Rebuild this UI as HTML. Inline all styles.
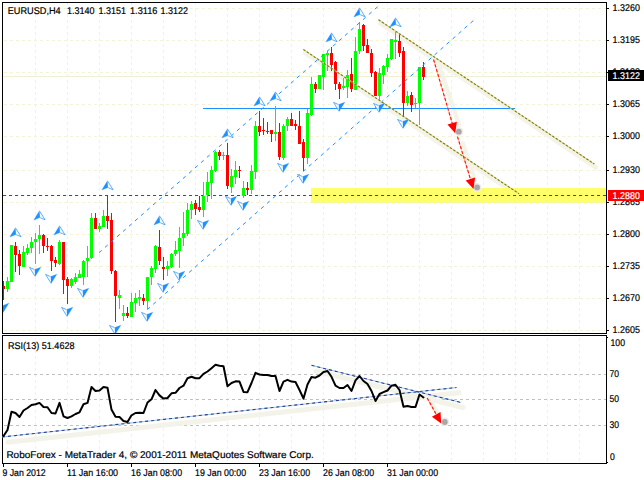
<!DOCTYPE html>
<html lang="en"><head><meta charset="utf-8"><title>EURUSD H4</title>
<style>html,body{margin:0;padding:0;background:#fff}svg{display:block}text{font-family:"Liberation Sans",sans-serif;font-size:9.8px;text-rendering:geometricPrecision;fill:#000;stroke:#000;stroke-width:.2px}</style></head><body>
<svg width="644" height="480" viewBox="0 0 644 480">
<rect width="644" height="480" fill="#fff"/>
<g stroke="#F4F2D8" stroke-width="1" stroke-dasharray="3 3" shape-rendering="crispEdges">
<line x1="35.5" y1="2" x2="35.5" y2="333"/>
<line x1="35.5" y1="338" x2="35.5" y2="463"/>
<line x1="67.5" y1="2" x2="67.5" y2="333"/>
<line x1="67.5" y1="338" x2="67.5" y2="463"/>
<line x1="99.5" y1="2" x2="99.5" y2="333"/>
<line x1="99.5" y1="338" x2="99.5" y2="463"/>
<line x1="131.5" y1="2" x2="131.5" y2="333"/>
<line x1="131.5" y1="338" x2="131.5" y2="463"/>
<line x1="163.5" y1="2" x2="163.5" y2="333"/>
<line x1="163.5" y1="338" x2="163.5" y2="463"/>
<line x1="195.5" y1="2" x2="195.5" y2="333"/>
<line x1="195.5" y1="338" x2="195.5" y2="463"/>
<line x1="227.5" y1="2" x2="227.5" y2="333"/>
<line x1="227.5" y1="338" x2="227.5" y2="463"/>
<line x1="259.5" y1="2" x2="259.5" y2="333"/>
<line x1="259.5" y1="338" x2="259.5" y2="463"/>
<line x1="291.5" y1="2" x2="291.5" y2="333"/>
<line x1="291.5" y1="338" x2="291.5" y2="463"/>
<line x1="323.5" y1="2" x2="323.5" y2="333"/>
<line x1="323.5" y1="338" x2="323.5" y2="463"/>
<line x1="355.5" y1="2" x2="355.5" y2="333"/>
<line x1="355.5" y1="338" x2="355.5" y2="463"/>
<line x1="387.5" y1="2" x2="387.5" y2="333"/>
<line x1="387.5" y1="338" x2="387.5" y2="463"/>
<line x1="419.5" y1="2" x2="419.5" y2="333"/>
<line x1="419.5" y1="338" x2="419.5" y2="463"/>
<line x1="451.5" y1="2" x2="451.5" y2="333"/>
<line x1="451.5" y1="338" x2="451.5" y2="463"/>
<line x1="483.5" y1="2" x2="483.5" y2="333"/>
<line x1="483.5" y1="338" x2="483.5" y2="463"/>
<line x1="515.5" y1="2" x2="515.5" y2="333"/>
<line x1="515.5" y1="338" x2="515.5" y2="463"/>
<line x1="547.5" y1="2" x2="547.5" y2="333"/>
<line x1="547.5" y1="338" x2="547.5" y2="463"/>
<line x1="579.5" y1="2" x2="579.5" y2="333"/>
<line x1="579.5" y1="338" x2="579.5" y2="463"/>
<line x1="4" y1="8.5" x2="606" y2="8.5"/>
<line x1="4" y1="40.5" x2="606" y2="40.5"/>
<line x1="4" y1="72.5" x2="606" y2="72.5"/>
<line x1="4" y1="104.5" x2="606" y2="104.5"/>
<line x1="4" y1="136.5" x2="606" y2="136.5"/>
<line x1="4" y1="170.5" x2="606" y2="170.5"/>
<line x1="4" y1="202.5" x2="606" y2="202.5"/>
<line x1="4" y1="234.5" x2="606" y2="234.5"/>
<line x1="4" y1="266.5" x2="606" y2="266.5"/>
<line x1="4" y1="298.5" x2="606" y2="298.5"/>
<line x1="4" y1="330.5" x2="606" y2="330.5"/>
</g>
<rect x="3" y="76" width="603" height="1" fill="#F2F0D2"/>
<g stroke="#F4F3E8" stroke-width="4.5" stroke-linecap="round" fill="none">
<line x1="380" y1="23.2" x2="596" y2="167.6"/>
<line x1="305" y1="53" x2="520.5" y2="197.2"/>
<line x1="438.2" y1="63" x2="459.2" y2="125" stroke-width="4.4"/>
<line x1="463" y1="143" x2="474.5" y2="178.5" stroke-width="4"/>
</g>
<rect x="311" y="188" width="295" height="15" fill="#FFFF6A"/>
<g stroke="#F3F18A" stroke-width="1" stroke-dasharray="3 3" shape-rendering="crispEdges">
<line x1="323.5" y1="189" x2="323.5" y2="202"/>
<line x1="355.5" y1="189" x2="355.5" y2="202"/>
<line x1="387.5" y1="189" x2="387.5" y2="202"/>
<line x1="419.5" y1="189" x2="419.5" y2="202"/>
<line x1="451.5" y1="189" x2="451.5" y2="202"/>
<line x1="483.5" y1="189" x2="483.5" y2="202"/>
<line x1="515.5" y1="189" x2="515.5" y2="202"/>
<line x1="547.5" y1="189" x2="547.5" y2="202"/>
<line x1="579.5" y1="189" x2="579.5" y2="202"/>
</g>
<line x1="310" y1="202.5" x2="606" y2="202.5" stroke="#F6F4B4" stroke-width="1" stroke-dasharray="3 3" shape-rendering="crispEdges"/>
<line x1="3" y1="195.5" x2="606" y2="195.5" stroke="#FF0000" stroke-width="1" stroke-dasharray="3 3" shape-rendering="crispEdges"/>
<rect x="203" y="108" width="312" height="1" fill="#1E90FF"/>
<g shape-rendering="crispEdges">
<rect x="3" y="281" width="1" height="19" fill="#FF0000"/><rect x="2" y="286" width="3" height="3" fill="#FF0000"/>
<rect x="7" y="277" width="1" height="15" fill="#00FF00"/><rect x="6" y="281" width="3" height="8" fill="#00FF00"/>
<rect x="11" y="245" width="1" height="37" fill="#00FF00"/><rect x="10" y="245" width="3" height="37" fill="#00FF00"/>
<rect x="15" y="242" width="1" height="30" fill="#FF0000"/><rect x="14" y="246" width="3" height="9" fill="#FF0000"/>
<rect x="19" y="250" width="1" height="25" fill="#FF0000"/><rect x="18" y="254" width="3" height="12" fill="#FF0000"/>
<rect x="23" y="246" width="1" height="21" fill="#00FF00"/><rect x="22" y="252" width="3" height="15" fill="#00FF00"/>
<rect x="27" y="244" width="1" height="11" fill="#00FF00"/><rect x="26" y="248" width="3" height="5" fill="#00FF00"/>
<rect x="31" y="237" width="1" height="16" fill="#00FF00"/><rect x="30" y="242" width="3" height="6" fill="#00FF00"/>
<rect x="35" y="233" width="1" height="31" fill="#00FF00"/><rect x="34" y="239" width="3" height="3" fill="#00FF00"/>
<rect x="39" y="225" width="1" height="29" fill="#00FF00"/><rect x="38" y="235" width="3" height="4" fill="#00FF00"/>
<rect x="43" y="234" width="1" height="19" fill="#FF0000"/><rect x="42" y="235" width="3" height="11" fill="#FF0000"/>
<rect x="47" y="238" width="1" height="13" fill="#FF0000"/><rect x="46" y="246" width="3" height="1" fill="#FF0000"/>
<rect x="51" y="245" width="1" height="26" fill="#FF0000"/><rect x="50" y="246" width="3" height="15" fill="#FF0000"/>
<rect x="55" y="257" width="1" height="10" fill="#FF0000"/><rect x="54" y="260" width="3" height="3" fill="#FF0000"/>
<rect x="59" y="240" width="1" height="25" fill="#00FF00"/><rect x="58" y="242" width="3" height="22" fill="#00FF00"/>
<rect x="63" y="242" width="1" height="52" fill="#FF0000"/><rect x="62" y="242" width="3" height="38" fill="#FF0000"/>
<rect x="67" y="277" width="1" height="27" fill="#FF0000"/><rect x="66" y="279" width="3" height="7" fill="#FF0000"/>
<rect x="71" y="278" width="1" height="10" fill="#00FF00"/><rect x="70" y="279" width="3" height="7" fill="#00FF00"/>
<rect x="75" y="273" width="1" height="11" fill="#00FF00"/><rect x="74" y="277" width="3" height="5" fill="#00FF00"/>
<rect x="79" y="270" width="1" height="8" fill="#00FF00"/><rect x="78" y="274" width="3" height="4" fill="#00FF00"/>
<rect x="83" y="260" width="1" height="25" fill="#00FF00"/><rect x="82" y="261" width="3" height="16" fill="#00FF00"/>
<rect x="87" y="246" width="1" height="31" fill="#00FF00"/><rect x="86" y="258" width="3" height="3" fill="#00FF00"/>
<rect x="91" y="213" width="1" height="46" fill="#00FF00"/><rect x="90" y="218" width="3" height="40" fill="#00FF00"/>
<rect x="95" y="213" width="1" height="16" fill="#FF0000"/><rect x="94" y="218" width="3" height="11" fill="#FF0000"/>
<rect x="99" y="223" width="1" height="9" fill="#00FF00"/><rect x="98" y="226" width="3" height="3" fill="#00FF00"/>
<rect x="103" y="210" width="1" height="17" fill="#00FF00"/><rect x="102" y="216" width="3" height="11" fill="#00FF00"/>
<rect x="107" y="195" width="1" height="34" fill="#FF0000"/><rect x="106" y="216" width="3" height="5" fill="#FF0000"/>
<rect x="111" y="213" width="1" height="61" fill="#FF0000"/><rect x="110" y="220" width="3" height="51" fill="#FF0000"/>
<rect x="115" y="270" width="1" height="52" fill="#FF0000"/><rect x="114" y="271" width="3" height="25" fill="#FF0000"/>
<rect x="119" y="290" width="1" height="19" fill="#00FF00"/><rect x="118" y="295" width="3" height="3" fill="#00FF00"/>
<rect x="123" y="305" width="1" height="16" fill="#00FF00"/><rect x="122" y="313" width="3" height="3" fill="#00FF00"/>
<rect x="127" y="307" width="1" height="11" fill="#FF0000"/><rect x="126" y="313" width="3" height="3" fill="#FF0000"/>
<rect x="131" y="293" width="1" height="24" fill="#00FF00"/><rect x="130" y="302" width="3" height="15" fill="#00FF00"/>
<rect x="135" y="293" width="1" height="19" fill="#00FF00"/><rect x="134" y="298" width="3" height="5" fill="#00FF00"/>
<rect x="139" y="290" width="1" height="16" fill="#00FF00"/><rect x="138" y="297" width="3" height="2" fill="#00FF00"/>
<rect x="143" y="294" width="1" height="11" fill="#FF0000"/><rect x="142" y="298" width="3" height="3" fill="#FF0000"/>
<rect x="147" y="277" width="1" height="32" fill="#00FF00"/><rect x="146" y="277" width="3" height="24" fill="#00FF00"/>
<rect x="151" y="266" width="1" height="19" fill="#00FF00"/><rect x="150" y="268" width="3" height="9" fill="#00FF00"/>
<rect x="155" y="245" width="1" height="28" fill="#00FF00"/><rect x="154" y="246" width="3" height="23" fill="#00FF00"/>
<rect x="159" y="230" width="1" height="35" fill="#FF0000"/><rect x="158" y="247" width="3" height="14" fill="#FF0000"/>
<rect x="163" y="257" width="1" height="23" fill="#FF0000"/><rect x="162" y="267" width="3" height="2" fill="#FF0000"/>
<rect x="167" y="261" width="1" height="15" fill="#00FF00"/><rect x="166" y="266" width="3" height="3" fill="#00FF00"/>
<rect x="171" y="253" width="1" height="15" fill="#00FF00"/><rect x="170" y="254" width="3" height="13" fill="#00FF00"/>
<rect x="175" y="241" width="1" height="15" fill="#00FF00"/><rect x="174" y="250" width="3" height="4" fill="#00FF00"/>
<rect x="179" y="227" width="1" height="41" fill="#00FF00"/><rect x="178" y="238" width="3" height="13" fill="#00FF00"/>
<rect x="183" y="212" width="1" height="34" fill="#00FF00"/><rect x="182" y="233" width="3" height="5" fill="#00FF00"/>
<rect x="187" y="203" width="1" height="33" fill="#00FF00"/><rect x="186" y="210" width="3" height="24" fill="#00FF00"/>
<rect x="191" y="201" width="1" height="18" fill="#00FF00"/><rect x="190" y="204" width="3" height="6" fill="#00FF00"/>
<rect x="195" y="200" width="1" height="15" fill="#FF0000"/><rect x="194" y="203" width="3" height="6" fill="#FF0000"/>
<rect x="199" y="196" width="1" height="16" fill="#FF0000"/><rect x="198" y="207" width="3" height="3" fill="#FF0000"/>
<rect x="203" y="182" width="1" height="35" fill="#00FF00"/><rect x="202" y="196" width="3" height="14" fill="#00FF00"/>
<rect x="207" y="172" width="1" height="30" fill="#00FF00"/><rect x="206" y="182" width="3" height="13" fill="#00FF00"/>
<rect x="211" y="166" width="1" height="33" fill="#00FF00"/><rect x="210" y="170" width="3" height="13" fill="#00FF00"/>
<rect x="215" y="151" width="1" height="21" fill="#00FF00"/><rect x="214" y="152" width="3" height="19" fill="#00FF00"/>
<rect x="219" y="150" width="1" height="10" fill="#FF0000"/><rect x="218" y="152" width="3" height="4" fill="#FF0000"/>
<rect x="223" y="152" width="1" height="8" fill="#00FF00"/><rect x="222" y="155" width="3" height="1" fill="#00FF00"/>
<rect x="227" y="143" width="1" height="46" fill="#FF0000"/><rect x="226" y="155" width="3" height="31" fill="#FF0000"/>
<rect x="231" y="169" width="1" height="24" fill="#00FF00"/><rect x="230" y="176" width="3" height="11" fill="#00FF00"/>
<rect x="235" y="161" width="1" height="23" fill="#00FF00"/><rect x="234" y="170" width="3" height="7" fill="#00FF00"/>
<rect x="239" y="166" width="1" height="12" fill="#FF0000"/><rect x="238" y="170" width="3" height="1" fill="#FF0000"/>
<rect x="243" y="181" width="1" height="17" fill="#00FF00"/><rect x="242" y="188" width="3" height="8" fill="#00FF00"/>
<rect x="247" y="182" width="1" height="13" fill="#FF0000"/><rect x="246" y="188" width="3" height="2" fill="#FF0000"/>
<rect x="251" y="165" width="1" height="29" fill="#00FF00"/><rect x="250" y="171" width="3" height="19" fill="#00FF00"/>
<rect x="255" y="121" width="1" height="58" fill="#00FF00"/><rect x="254" y="126" width="3" height="46" fill="#00FF00"/>
<rect x="259" y="111" width="1" height="25" fill="#FF0000"/><rect x="258" y="126" width="3" height="6" fill="#FF0000"/>
<rect x="263" y="118" width="1" height="17" fill="#FF0000"/><rect x="262" y="130" width="3" height="1" fill="#FF0000"/>
<rect x="267" y="122" width="1" height="12" fill="#FF0000"/><rect x="266" y="131" width="3" height="1" fill="#FF0000"/>
<rect x="271" y="130" width="1" height="12" fill="#FF0000"/><rect x="270" y="130" width="3" height="4" fill="#FF0000"/>
<rect x="275" y="106" width="1" height="35" fill="#00FF00"/><rect x="274" y="132" width="3" height="2" fill="#00FF00"/>
<rect x="279" y="123" width="1" height="37" fill="#FF0000"/><rect x="278" y="132" width="3" height="25" fill="#FF0000"/>
<rect x="283" y="124" width="1" height="36" fill="#00FF00"/><rect x="282" y="126" width="3" height="32" fill="#00FF00"/>
<rect x="287" y="117" width="1" height="14" fill="#00FF00"/><rect x="286" y="119" width="3" height="7" fill="#00FF00"/>
<rect x="291" y="113" width="1" height="13" fill="#FF0000"/><rect x="290" y="119" width="3" height="7" fill="#FF0000"/>
<rect x="295" y="120" width="1" height="10" fill="#FF0000"/><rect x="294" y="124" width="3" height="2" fill="#FF0000"/>
<rect x="299" y="111" width="1" height="33" fill="#FF0000"/><rect x="298" y="126" width="3" height="18" fill="#FF0000"/>
<rect x="303" y="139" width="1" height="32" fill="#FF0000"/><rect x="302" y="142" width="3" height="16" fill="#FF0000"/>
<rect x="307" y="109" width="1" height="55" fill="#00FF00"/><rect x="306" y="113" width="3" height="45" fill="#00FF00"/>
<rect x="311" y="77" width="1" height="39" fill="#00FF00"/><rect x="310" y="84" width="3" height="31" fill="#00FF00"/>
<rect x="315" y="82" width="1" height="11" fill="#FF0000"/><rect x="314" y="84" width="3" height="5" fill="#FF0000"/>
<rect x="319" y="75" width="1" height="14" fill="#00FF00"/><rect x="318" y="75" width="3" height="14" fill="#00FF00"/>
<rect x="323" y="54" width="1" height="36" fill="#00FF00"/><rect x="322" y="54" width="3" height="23" fill="#00FF00"/>
<rect x="327" y="51" width="1" height="20" fill="#00FF00"/><rect x="326" y="53" width="3" height="2" fill="#00FF00"/>
<rect x="331" y="47" width="1" height="24" fill="#FF0000"/><rect x="330" y="53" width="3" height="12" fill="#FF0000"/>
<rect x="335" y="61" width="1" height="29" fill="#FF0000"/><rect x="334" y="62" width="3" height="22" fill="#FF0000"/>
<rect x="339" y="82" width="1" height="17" fill="#FF0000"/><rect x="338" y="84" width="3" height="5" fill="#FF0000"/>
<rect x="343" y="78" width="1" height="12" fill="#00FF00"/><rect x="342" y="86" width="3" height="2" fill="#00FF00"/>
<rect x="347" y="70" width="1" height="28" fill="#00FF00"/><rect x="346" y="75" width="3" height="12" fill="#00FF00"/>
<rect x="351" y="58" width="1" height="34" fill="#FF0000"/><rect x="350" y="74" width="3" height="15" fill="#FF0000"/>
<rect x="355" y="37" width="1" height="53" fill="#00FF00"/><rect x="354" y="51" width="3" height="39" fill="#00FF00"/>
<rect x="359" y="22" width="1" height="32" fill="#00FF00"/><rect x="358" y="29" width="3" height="22" fill="#00FF00"/>
<rect x="363" y="24" width="1" height="27" fill="#FF0000"/><rect x="362" y="25" width="3" height="21" fill="#FF0000"/>
<rect x="367" y="39" width="1" height="14" fill="#FF0000"/><rect x="366" y="45" width="3" height="8" fill="#FF0000"/>
<rect x="371" y="49" width="1" height="28" fill="#FF0000"/><rect x="370" y="53" width="3" height="20" fill="#FF0000"/>
<rect x="375" y="71" width="1" height="25" fill="#FF0000"/><rect x="374" y="72" width="3" height="24" fill="#FF0000"/>
<rect x="379" y="68" width="1" height="32" fill="#00FF00"/><rect x="378" y="73" width="3" height="23" fill="#00FF00"/>
<rect x="383" y="65" width="1" height="19" fill="#00FF00"/><rect x="382" y="66" width="3" height="9" fill="#00FF00"/>
<rect x="387" y="54" width="1" height="18" fill="#00FF00"/><rect x="386" y="58" width="3" height="9" fill="#00FF00"/>
<rect x="391" y="39" width="1" height="21" fill="#00FF00"/><rect x="390" y="39" width="3" height="20" fill="#00FF00"/>
<rect x="395" y="32" width="1" height="27" fill="#00FF00"/><rect x="394" y="40" width="3" height="2" fill="#00FF00"/>
<rect x="399" y="34" width="1" height="23" fill="#FF0000"/><rect x="398" y="41" width="3" height="12" fill="#FF0000"/>
<rect x="403" y="47" width="1" height="69" fill="#FF0000"/><rect x="402" y="51" width="3" height="52" fill="#FF0000"/>
<rect x="407" y="91" width="1" height="15" fill="#00FF00"/><rect x="406" y="96" width="3" height="7" fill="#00FF00"/>
<rect x="411" y="92" width="1" height="20" fill="#FF0000"/><rect x="410" y="95" width="3" height="10" fill="#FF0000"/>
<rect x="415" y="98" width="1" height="10" fill="#00FF00"/><rect x="414" y="103" width="3" height="1" fill="#00FF00"/>
<rect x="419" y="67" width="1" height="58" fill="#00FF00"/><rect x="418" y="67" width="3" height="36" fill="#00FF00"/>
<rect x="423" y="62" width="1" height="18" fill="#FF0000"/><rect x="422" y="67" width="3" height="10" fill="#FF0000"/>
</g>
<g stroke="#1E90FF" stroke-width="1.0" stroke-dasharray="3.6 4.4" fill="none">
<line x1="99" y1="252.7" x2="378" y2="6.4"/>
<line x1="147.2" y1="309.6" x2="474" y2="20"/>
</g>
<g stroke="#DEDC90" stroke-width="1.1" fill="none">
<line x1="378.5" y1="19.7" x2="594.3" y2="164"/>
<line x1="303.4" y1="49.5" x2="519" y2="193.7"/>
</g>
<g stroke="#7E7C1C" stroke-width="1.1" stroke-dasharray="2.4 1.7" fill="none">
<line x1="378.5" y1="19.7" x2="594.3" y2="164"/>
<line x1="303.4" y1="49.5" x2="519" y2="193.7"/>
</g>
<defs><clipPath id="mp"><rect x="3" y="3" width="603" height="330"/></clipPath></defs>
<g clip-path="url(#mp)">
<path d="M15.5,227.7 L9.8,237.0 L15.9,234.6 Z" fill="#1E90FF" stroke="#1E90FF" stroke-width=".3"/><path d="M15.8,228.29999999999998 L21.1,236.79999999999998 L16.2,234.7" fill="#F4FAFF" stroke="#2E96FF" stroke-width=".75" stroke-linejoin="round"/>
<path d="M39.5,210.7 L33.8,220.0 L39.9,217.6 Z" fill="#1E90FF" stroke="#1E90FF" stroke-width=".3"/><path d="M39.8,211.29999999999998 L45.1,219.79999999999998 L40.2,217.7" fill="#F4FAFF" stroke="#2E96FF" stroke-width=".75" stroke-linejoin="round"/>
<path d="M59.5,225.7 L53.8,235.0 L59.9,232.6 Z" fill="#1E90FF" stroke="#1E90FF" stroke-width=".3"/><path d="M59.8,226.29999999999998 L65.1,234.79999999999998 L60.2,232.7" fill="#F4FAFF" stroke="#2E96FF" stroke-width=".75" stroke-linejoin="round"/>
<path d="M107.5,180.7 L101.8,190.0 L107.9,187.6 Z" fill="#1E90FF" stroke="#1E90FF" stroke-width=".3"/><path d="M107.8,181.29999999999998 L113.1,189.79999999999998 L108.2,187.7" fill="#F4FAFF" stroke="#2E96FF" stroke-width=".75" stroke-linejoin="round"/>
<path d="M159.5,215.7 L153.8,225.0 L159.9,222.6 Z" fill="#1E90FF" stroke="#1E90FF" stroke-width=".3"/><path d="M159.8,216.29999999999998 L165.1,224.79999999999998 L160.2,222.7" fill="#F4FAFF" stroke="#2E96FF" stroke-width=".75" stroke-linejoin="round"/>
<path d="M227.5,128.7 L221.8,138.0 L227.9,135.6 Z" fill="#1E90FF" stroke="#1E90FF" stroke-width=".3"/><path d="M227.8,129.29999999999998 L233.1,137.79999999999998 L228.2,135.7" fill="#F4FAFF" stroke="#2E96FF" stroke-width=".75" stroke-linejoin="round"/>
<path d="M259.5,96.7 L253.8,106.0 L259.9,103.60000000000001 Z" fill="#1E90FF" stroke="#1E90FF" stroke-width=".3"/><path d="M259.8,97.3 L265.1,105.8 L260.2,103.7" fill="#F4FAFF" stroke="#2E96FF" stroke-width=".75" stroke-linejoin="round"/>
<path d="M275.5,91.7 L269.8,101.0 L275.9,98.60000000000001 Z" fill="#1E90FF" stroke="#1E90FF" stroke-width=".3"/><path d="M275.8,92.3 L281.1,100.8 L276.2,98.7" fill="#F4FAFF" stroke="#2E96FF" stroke-width=".75" stroke-linejoin="round"/>
<path d="M331.5,32.7 L325.8,42.0 L331.9,39.6 Z" fill="#1E90FF" stroke="#1E90FF" stroke-width=".3"/><path d="M331.8,33.300000000000004 L337.1,41.800000000000004 L332.2,39.7" fill="#F4FAFF" stroke="#2E96FF" stroke-width=".75" stroke-linejoin="round"/>
<path d="M359.5,7.699999999999999 L353.8,17.0 L359.9,14.6 Z" fill="#1E90FF" stroke="#1E90FF" stroke-width=".3"/><path d="M359.8,8.299999999999999 L365.1,16.799999999999997 L360.2,14.7" fill="#F4FAFF" stroke="#2E96FF" stroke-width=".75" stroke-linejoin="round"/>
<path d="M395.5,17.7 L389.8,27.0 L395.9,24.6 Z" fill="#1E90FF" stroke="#1E90FF" stroke-width=".3"/><path d="M395.8,18.3 L401.1,26.799999999999997 L396.2,24.7" fill="#F4FAFF" stroke="#2E96FF" stroke-width=".75" stroke-linejoin="round"/>
<path d="M3.1,312.5 L8.8,303.2 L2.7,305.6 Z" fill="#1E90FF" stroke="#1E90FF" stroke-width=".3"/><path d="M2.8000000000000003,311.9 L-2.4999999999999996,303.4 L2.4000000000000004,305.5" fill="#F4FAFF" stroke="#2E96FF" stroke-width=".75" stroke-linejoin="round"/>
<path d="M35.1,276.5 L40.800000000000004,267.2 L34.7,269.6 Z" fill="#1E90FF" stroke="#1E90FF" stroke-width=".3"/><path d="M34.800000000000004,275.9 L29.5,267.4 L34.4,269.5" fill="#F4FAFF" stroke="#2E96FF" stroke-width=".75" stroke-linejoin="round"/>
<path d="M51.1,283.5 L56.800000000000004,274.2 L50.7,276.6 Z" fill="#1E90FF" stroke="#1E90FF" stroke-width=".3"/><path d="M50.800000000000004,282.9 L45.5,274.4 L50.4,276.5" fill="#F4FAFF" stroke="#2E96FF" stroke-width=".75" stroke-linejoin="round"/>
<path d="M67.1,316.5 L72.8,307.2 L66.69999999999999,309.6 Z" fill="#1E90FF" stroke="#1E90FF" stroke-width=".3"/><path d="M66.8,315.9 L61.49999999999999,307.4 L66.39999999999999,309.5" fill="#F4FAFF" stroke="#2E96FF" stroke-width=".75" stroke-linejoin="round"/>
<path d="M83.1,297.5 L88.8,288.2 L82.69999999999999,290.6 Z" fill="#1E90FF" stroke="#1E90FF" stroke-width=".3"/><path d="M82.8,296.9 L77.5,288.4 L82.39999999999999,290.5" fill="#F4FAFF" stroke="#2E96FF" stroke-width=".75" stroke-linejoin="round"/>
<path d="M115.1,334.5 L120.8,325.2 L114.69999999999999,327.6 Z" fill="#1E90FF" stroke="#1E90FF" stroke-width=".3"/><path d="M114.8,333.9 L109.5,325.4 L114.39999999999999,327.5" fill="#F4FAFF" stroke="#2E96FF" stroke-width=".75" stroke-linejoin="round"/>
<path d="M147.1,321.5 L152.79999999999998,312.2 L146.7,314.6 Z" fill="#1E90FF" stroke="#1E90FF" stroke-width=".3"/><path d="M146.79999999999998,320.9 L141.5,312.4 L146.4,314.5" fill="#F4FAFF" stroke="#2E96FF" stroke-width=".75" stroke-linejoin="round"/>
<path d="M163.1,292.5 L168.79999999999998,283.2 L162.7,285.6 Z" fill="#1E90FF" stroke="#1E90FF" stroke-width=".3"/><path d="M162.79999999999998,291.9 L157.5,283.4 L162.4,285.5" fill="#F4FAFF" stroke="#2E96FF" stroke-width=".75" stroke-linejoin="round"/>
<path d="M179.1,280.5 L184.79999999999998,271.2 L178.7,273.6 Z" fill="#1E90FF" stroke="#1E90FF" stroke-width=".3"/><path d="M178.79999999999998,279.9 L173.5,271.4 L178.4,273.5" fill="#F4FAFF" stroke="#2E96FF" stroke-width=".75" stroke-linejoin="round"/>
<path d="M203.1,229.5 L208.79999999999998,220.2 L202.7,222.6 Z" fill="#1E90FF" stroke="#1E90FF" stroke-width=".3"/><path d="M202.79999999999998,228.9 L197.5,220.4 L202.4,222.5" fill="#F4FAFF" stroke="#2E96FF" stroke-width=".75" stroke-linejoin="round"/>
<path d="M231.1,205.5 L236.79999999999998,196.2 L230.7,198.6 Z" fill="#1E90FF" stroke="#1E90FF" stroke-width=".3"/><path d="M230.79999999999998,204.9 L225.5,196.4 L230.4,198.5" fill="#F4FAFF" stroke="#2E96FF" stroke-width=".75" stroke-linejoin="round"/>
<path d="M243.1,210.5 L248.79999999999998,201.2 L242.7,203.6 Z" fill="#1E90FF" stroke="#1E90FF" stroke-width=".3"/><path d="M242.79999999999998,209.9 L237.5,201.4 L242.4,203.5" fill="#F4FAFF" stroke="#2E96FF" stroke-width=".75" stroke-linejoin="round"/>
<path d="M283.1,172.5 L288.8,163.2 L282.70000000000005,165.6 Z" fill="#1E90FF" stroke="#1E90FF" stroke-width=".3"/><path d="M282.8,171.9 L277.5,163.4 L282.40000000000003,165.5" fill="#F4FAFF" stroke="#2E96FF" stroke-width=".75" stroke-linejoin="round"/>
<path d="M303.1,183.5 L308.8,174.2 L302.70000000000005,176.6 Z" fill="#1E90FF" stroke="#1E90FF" stroke-width=".3"/><path d="M302.8,182.9 L297.5,174.4 L302.40000000000003,176.5" fill="#F4FAFF" stroke="#2E96FF" stroke-width=".75" stroke-linejoin="round"/>
<path d="M339.1,111.5 L344.8,102.2 L338.70000000000005,104.6 Z" fill="#1E90FF" stroke="#1E90FF" stroke-width=".3"/><path d="M338.8,110.9 L333.5,102.4 L338.40000000000003,104.5" fill="#F4FAFF" stroke="#2E96FF" stroke-width=".75" stroke-linejoin="round"/>
<path d="M379.1,112.5 L384.8,103.2 L378.70000000000005,105.6 Z" fill="#1E90FF" stroke="#1E90FF" stroke-width=".3"/><path d="M378.8,111.9 L373.5,103.4 L378.40000000000003,105.5" fill="#F4FAFF" stroke="#2E96FF" stroke-width=".75" stroke-linejoin="round"/>
<path d="M403.1,128.5 L408.8,119.2 L402.70000000000005,121.6 Z" fill="#1E90FF" stroke="#1E90FF" stroke-width=".3"/><path d="M402.8,127.9 L397.5,119.4 L402.40000000000003,121.5" fill="#F4FAFF" stroke="#2E96FF" stroke-width=".75" stroke-linejoin="round"/>
</g>
<line x1="433.6" y1="59.6" x2="452.2" y2="123.2" stroke="#FFB09A" stroke-width="1"/><line x1="433.6" y1="59.6" x2="452.2" y2="123.2" stroke="#FF1A0A" stroke-width="1.15" stroke-dasharray="3 2"/><circle cx="458.8" cy="131.7" r="4.4" fill="#F0EAEA"/><path d="M455.2,133.3 L447.5,124.6 L456.9,121.8 Z" fill="#FF0000"/><circle cx="458.8" cy="131.7" r="2.9" fill="#A8A8A4"/>
<line x1="457.5" y1="136.7" x2="470.4" y2="179.0" stroke="#FFB09A" stroke-width="1"/><line x1="457.5" y1="136.7" x2="470.4" y2="179.0" stroke="#FF1A0A" stroke-width="1.15" stroke-dasharray="3 2"/><circle cx="477.1" cy="187.4" r="4.4" fill="#F0EAEA"/><path d="M473.5,189.0 L465.7,180.4 L475.1,177.5 Z" fill="#FF0000"/><circle cx="477.1" cy="187.4" r="2.9" fill="#A8A8A4"/>
<g fill="#000" shape-rendering="crispEdges">
<rect x="2" y="2" width="605" height="1"/>
<rect x="2" y="2" width="1" height="332"/>
<rect x="2" y="333" width="605" height="1"/>
<rect x="606" y="2" width="1" height="332"/>
<rect x="2" y="335" width="605" height="1"/>
<rect x="2" y="335" width="1" height="129"/>
<rect x="606" y="335" width="1" height="129"/>
<rect x="2" y="463" width="605" height="1"/>
<rect x="607" y="8" width="2" height="1"/>
<rect x="607" y="40" width="2" height="1"/>
<rect x="607" y="72" width="2" height="1"/>
<rect x="607" y="104" width="2" height="1"/>
<rect x="607" y="136" width="2" height="1"/>
<rect x="607" y="170" width="2" height="1"/>
<rect x="607" y="202" width="2" height="1"/>
<rect x="607" y="234" width="2" height="1"/>
<rect x="607" y="266" width="2" height="1"/>
<rect x="607" y="298" width="2" height="1"/>
<rect x="607" y="330" width="2" height="1"/>
<rect x="607" y="337" width="1" height="1"/><rect x="607" y="462" width="1" height="1"/>
<rect x="3" y="464" width="1" height="3"/>
<rect x="67" y="464" width="1" height="3"/>
<rect x="131" y="464" width="1" height="3"/>
<rect x="195" y="464" width="1" height="3"/>
<rect x="259" y="464" width="1" height="3"/>
<rect x="323" y="464" width="1" height="3"/>
<rect x="387" y="464" width="1" height="3"/>
</g>
<text x="612.6" y="11" textLength="27.3" lengthAdjust="spacingAndGlyphs">1.3260</text>
<text x="612.6" y="43" textLength="27.3" lengthAdjust="spacingAndGlyphs">1.3195</text>
<text x="612.6" y="75" textLength="27.3" lengthAdjust="spacingAndGlyphs">1.3130</text>
<text x="612.6" y="107" textLength="27.3" lengthAdjust="spacingAndGlyphs">1.3065</text>
<text x="612.6" y="139" textLength="27.3" lengthAdjust="spacingAndGlyphs">1.3000</text>
<text x="612.6" y="173" textLength="27.3" lengthAdjust="spacingAndGlyphs">1.2930</text>
<text x="612.6" y="205" textLength="27.3" lengthAdjust="spacingAndGlyphs">1.2865</text>
<text x="612.6" y="237" textLength="27.3" lengthAdjust="spacingAndGlyphs">1.2800</text>
<text x="612.6" y="269" textLength="27.3" lengthAdjust="spacingAndGlyphs">1.2735</text>
<text x="612.6" y="301" textLength="27.3" lengthAdjust="spacingAndGlyphs">1.2670</text>
<text x="612.6" y="333" textLength="27.3" lengthAdjust="spacingAndGlyphs">1.2605</text>
<rect x="608" y="70" width="36" height="11" fill="#000"/>
<text x="612.6" y="79" textLength="27.3" lengthAdjust="spacingAndGlyphs" style="fill:#fff;stroke:#fff">1.3122</text>
<rect x="608" y="190" width="36" height="11" fill="#FF0000"/>
<text x="612.6" y="199" textLength="27.3" lengthAdjust="spacingAndGlyphs" style="fill:#fff;stroke:#fff">1.2880</text>
<text x="7.7" y="14" textLength="53" lengthAdjust="spacingAndGlyphs">EURUSD,H4</text>
<text x="67" y="14" textLength="27.5" lengthAdjust="spacingAndGlyphs">1.3140</text>
<text x="98.5" y="14" textLength="27.5" lengthAdjust="spacingAndGlyphs">1.3151</text>
<text x="130" y="14" textLength="27.5" lengthAdjust="spacingAndGlyphs">1.3116</text>
<text x="160.5" y="14" textLength="27.5" lengthAdjust="spacingAndGlyphs">1.3122</text>
<g stroke="#C0C0C0" stroke-width="1" stroke-dasharray="3 3" shape-rendering="crispEdges">
<line x1="4" y1="374.5" x2="606" y2="374.5"/>
<line x1="4" y1="399.5" x2="606" y2="399.5"/>
<line x1="4" y1="425.5" x2="606" y2="425.5"/>
</g>
<g stroke="#F4F3E9" stroke-width="5" stroke-linecap="round" fill="none">
<line x1="8" y1="442.2" x2="459" y2="392.8"/>
<line x1="316" y1="371" x2="463" y2="407.5"/>
<line x1="431" y1="402" x2="440" y2="416" stroke-width="3.6"/>
</g>
<g stroke="#9CC6D6" stroke-width="1" fill="none">
<line x1="2" y1="437" x2="456.5" y2="387.5"/>
<line x1="311.5" y1="365.3" x2="461" y2="402.5"/>
</g>
<g stroke="#2C3A9C" stroke-width="1.1" stroke-dasharray="3 3" fill="none">
<line x1="2" y1="437" x2="456.5" y2="387.5"/>
<line x1="311.5" y1="365.3" x2="461" y2="402.5"/>
</g>
<polyline points="3.5,436.0 7.5,430.0 11.5,411.7 15.5,413.0 19.5,417.0 23.5,410.5 27.5,408.0 31.5,405.0 35.5,404.3 39.5,402.9 43.5,407.0 47.5,407.3 51.5,413.0 55.5,413.5 59.5,402.9 63.5,416.3 67.5,418.0 71.5,416.3 75.5,414.0 79.5,412.3 83.5,404.3 87.5,402.9 91.5,387.0 95.5,391.0 99.5,390.5 103.5,387.0 107.5,387.8 111.5,409.6 115.5,416.7 119.5,417.0 123.5,421.0 127.5,422.0 131.5,415.3 135.5,413.0 139.5,412.8 143.5,413.0 147.5,402.5 151.5,399.3 155.5,390.0 159.5,395.4 163.5,398.6 167.5,398.0 171.5,393.3 175.5,392.8 179.5,388.0 183.5,385.7 187.5,378.2 191.5,376.8 195.5,378.2 199.5,378.2 203.5,373.8 207.5,371.5 211.5,368.2 215.5,364.8 219.5,365.7 223.5,366.2 227.5,386.2 231.5,383.0 235.5,381.3 239.5,381.6 243.5,391.9 247.5,392.2 251.5,383.0 255.5,372.8 259.5,374.5 263.5,375.0 267.5,375.0 271.5,376.0 275.5,376.0 279.5,391.0 283.5,381.6 287.5,379.8 291.5,381.6 295.5,382.0 299.5,390.0 303.5,398.6 307.5,384.4 311.5,377.1 315.5,377.7 319.5,375.5 323.5,372.0 327.5,371.0 331.5,376.8 335.5,385.7 339.5,388.0 343.5,388.0 347.5,385.0 351.5,391.0 355.5,380.4 359.5,376.0 363.5,381.0 367.5,384.0 371.5,391.0 375.5,401.0 379.5,394.0 383.5,392.2 387.5,390.5 391.5,385.7 395.5,384.8 399.5,390.0 403.5,406.7 407.5,406.0 411.5,407.0 415.5,407.0 419.5,394.5 423.5,397.5" fill="none" stroke="#000" stroke-width="2" stroke-linejoin="round" stroke-linecap="round"/>
<line x1="427.2" y1="398" x2="436.2" y2="414.4" stroke="#FFB09A" stroke-width="1"/><line x1="427.2" y1="398" x2="436.2" y2="414.4" stroke="#FF1A0A" stroke-width="1.15" stroke-dasharray="3 2"/><circle cx="444.8" cy="422.0" r="4.4" fill="#F0EAEA"/><path d="M441.2,423.6 L431.9,416.7 L440.5,412.0 Z" fill="#FF0000"/><circle cx="444.8" cy="422.0" r="2.9" fill="#A8A8A4"/>
<text x="8" y="349" textLength="66.5" lengthAdjust="spacingAndGlyphs">RSI(13) 51.4628</text>
<text x="6.4" y="458" textLength="307.4" lengthAdjust="spacingAndGlyphs">RoboForex - MetaTrader 4, © 2001-2011 MetaQuotes Software Corp.</text>
<text x="610.5" y="346" textLength="14.5" lengthAdjust="spacingAndGlyphs">100</text>
<text x="609.5" y="377" textLength="9.5" lengthAdjust="spacingAndGlyphs">70</text>
<text x="609.5" y="402" textLength="9.5" lengthAdjust="spacingAndGlyphs">50</text>
<text x="609.5" y="428" textLength="9.5" lengthAdjust="spacingAndGlyphs">30</text>
<text x="610" y="460" textLength="4.8" lengthAdjust="spacingAndGlyphs">0</text>
<text x="2.4" y="476" textLength="43.3" lengthAdjust="spacingAndGlyphs">9 Jan 2012</text>
<text x="67.1" y="476" textLength="51" lengthAdjust="spacingAndGlyphs">11 Jan 16:00</text>
<text x="131.1" y="476" textLength="51" lengthAdjust="spacingAndGlyphs">16 Jan 08:00</text>
<text x="195.1" y="476" textLength="51" lengthAdjust="spacingAndGlyphs">19 Jan 00:00</text>
<text x="259.1" y="476" textLength="51" lengthAdjust="spacingAndGlyphs">23 Jan 16:00</text>
<text x="323.1" y="476" textLength="51" lengthAdjust="spacingAndGlyphs">26 Jan 08:00</text>
<text x="387.1" y="476" textLength="51" lengthAdjust="spacingAndGlyphs">31 Jan 00:00</text>
</svg></body></html>
